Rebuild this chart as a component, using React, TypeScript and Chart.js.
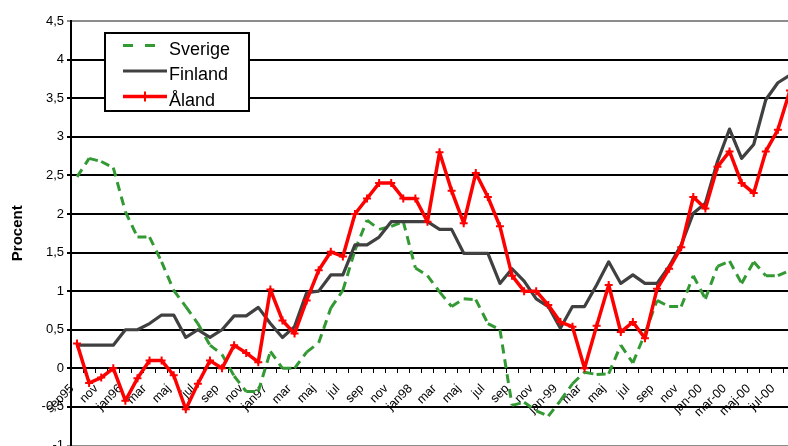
import React, { useEffect, useRef } from 'react';
import { Chart, registerables } from 'chart.js';

Chart.register(...registerables);

// Category labels (one per month, sep 1995 – aug 2000); every second one is shown
const months = [
  'sep95', 'okt', 'nov', 'dec', 'jan96', 'feb', 'mar', 'apr', 'maj', 'jun', 'jul', 'aug',
  'sep', 'okt', 'nov', 'dec', 'jan97', 'feb', 'mar', 'apr', 'maj', 'jun', 'jul', 'aug',
  'sep', 'okt', 'nov', 'dec', 'jan98', 'feb', 'mar', 'apr', 'maj', 'jun', 'jul', 'aug',
  'sep', 'okt', 'nov', 'dec', 'jan-99', 'feb', 'mar', 'apr', 'maj', 'jun', 'jul', 'aug',
  'sep', 'okt', 'nov', 'dec', 'jan-00', 'feb-00', 'mar-00', 'apr-00', 'maj-00', 'jun-00', 'jul-00', 'aug-00',
];

const sverige = [
  2.48, 2.72, 2.68, 2.6, 2.03, 1.7, 1.7, 1.38, 1.01, 0.8,
  0.58, 0.3, 0.18, -0.1, -0.3, -0.3, 0.22, 0.0, 0.0, 0.21,
  0.33, 0.78, 1.01, 1.53, 1.92, 1.8, 1.84, 1.9, 1.3, 1.2,
  0.99, 0.8, 0.9, 0.89, 0.58, 0.5, -0.48, -0.44, -0.55, -0.62,
  -0.42, -0.2, -0.05, -0.08, -0.07, 0.3, 0.07, 0.45, 0.88, 0.8,
  0.8, 1.2, 0.9, 1.32, 1.39, 1.1, 1.38, 1.2, 1.2, 1.27,
];

const finland = [
  0.3, 0.3, 0.3, 0.3, 0.5, 0.5, 0.58, 0.69, 0.69, 0.4,
  0.5, 0.4, 0.5, 0.68, 0.68, 0.79, 0.58, 0.4, 0.54, 0.98,
  1.0, 1.21, 1.21, 1.6, 1.6, 1.7, 1.9, 1.9, 1.9, 1.9,
  1.8, 1.8, 1.49, 1.49, 1.49, 1.1, 1.29, 1.13, 0.9, 0.8,
  0.52, 0.8, 0.8, 1.08, 1.38, 1.1, 1.21, 1.1, 1.1, 1.32,
  1.6, 2.01, 2.14, 2.68, 3.1, 2.72, 2.9, 3.48, 3.7, 3.8,
];

const aland = [
  0.32, -0.19, -0.12, 0.0, -0.42, -0.13, 0.1, 0.1, -0.09, -0.53,
  -0.2, 0.1, 0.0, 0.3, 0.2, 0.08, 1.02, 0.62, 0.45, 0.88,
  1.27, 1.51, 1.45, 2.0, 2.2, 2.4, 2.4, 2.2, 2.2, 1.9,
  2.8, 2.3, 1.88, 2.53, 2.22, 1.84, 1.2, 1.0, 1.0, 0.82,
  0.6, 0.54, 0.0, 0.55, 1.08, 0.47, 0.6, 0.39, 1.03, 1.29,
  1.57, 2.22, 2.07, 2.61, 2.81, 2.4, 2.27, 2.81, 3.09, 3.6,
];

const seriesNames = ['Sverige', 'Finland', 'Åland'];
const yTitle = 'Procent';
const yMin = -1;
const yMax = 4.5;
const yStep = 0.5;

const FONT = "'Liberation Sans', Arial, sans-serif";
const GREEN = '#339933';
const GRAY = '#404040';
const RED = '#ff0000';

const boxLegend = {
  id: 'boxLegend',
  afterDraw(chart: any) {
    const { ctx, chartArea } = chart;
    const x0 = chartArea.left + 34;
    const y0 = chartArea.top + 12;
    const w = 144;
    const h = 78;
    ctx.save();
    ctx.fillStyle = '#ffffff';
    ctx.fillRect(x0, y0, w, h);
    ctx.strokeStyle = '#000000';
    ctx.lineWidth = 2;
    ctx.strokeRect(x0, y0, w, h);
    ctx.font = `18px ${FONT}`;
    ctx.textBaseline = 'alphabetic';
    ctx.textAlign = 'left';
    chart.data.datasets.forEach((ds: any, i: number) => {
      const base = y0 + 21.5 + i * 25.5;
      const ly = base - 9;
      const lx0 = x0 + 18;
      const lx1 = x0 + 62;
      ctx.beginPath();
      ctx.strokeStyle = ds.borderColor;
      ctx.lineWidth = ds.borderWidth;
      ctx.setLineDash(ds.borderDash ? [10, 12] : []);
      ctx.moveTo(lx0, ly);
      ctx.lineTo(lx1, ly);
      ctx.stroke();
      ctx.setLineDash([]);
      if (ds.pointStyle === 'cross') {
        const cx = (lx0 + lx1) / 2;
        ctx.beginPath();
        ctx.lineWidth = 2;
        ctx.moveTo(cx, ly - 5);
        ctx.lineTo(cx, ly + 5);
        ctx.stroke();
      }
      ctx.fillStyle = '#000000';
      ctx.fillText(ds.label, x0 + 64, base);
    });
    ctx.restore();
  },
};

const zeroPadding = (s: any) => {
  s.paddingLeft = 0;
  s.paddingRight = 0;
  s.paddingTop = 0;
  s.paddingBottom = 0;
};

export default function App() {
  const ref = useRef<HTMLCanvasElement | null>(null);

  useEffect(() => {
    if (!ref.current) return;
    const chart = new Chart(ref.current, {
      type: 'line',
      data: {
        labels: months,
        datasets: [
          {
            label: seriesNames[0],
            data: sverige,
            borderColor: GREEN,
            backgroundColor: GREEN,
            borderWidth: 3,
            borderDash: [9, 6],
            pointRadius: 0,
            tension: 0,
            order: 3,
            segment: {
              borderDashOffset: (c: any) => (c.p0DataIndex % 2 ? 0.01 : 0),
            },
          } as any,
          {
            label: seriesNames[1],
            data: finland,
            borderColor: GRAY,
            backgroundColor: GRAY,
            borderWidth: 3.2,
            borderJoinStyle: 'round',
            pointRadius: 0,
            tension: 0,
            order: 2,
          },
          {
            label: seriesNames[2],
            data: aland,
            borderColor: RED,
            backgroundColor: RED,
            borderWidth: 3.5,
            borderJoinStyle: 'round',
            pointStyle: 'cross',
            pointRadius: 4,
            pointBorderWidth: 2,
            pointBorderColor: RED,
            tension: 0,
            order: 1,
          },
        ],
      },
      options: {
        animation: false,
        responsive: false,
        maintainAspectRatio: false,
        layout: { padding: { top: 21, right: 2, bottom: 11.5, left: 0 } },
        plugins: {
          legend: { display: false },
          tooltip: { enabled: false },
        },
        scales: {
          x: {
            type: 'category',
            position: { y: 0 } as any,
            offset: true,
            grid: {
              offset: true,
              drawOnChartArea: false,
              drawTicks: true,
              tickLength: 4,
              color: '#000',
              lineWidth: 1,
            },
            border: { color: '#000', width: 2 },
            ticks: {
              autoSkip: false,
              minRotation: 45,
              maxRotation: 45,
              padding: 9,
              labelOffset: -5,
              color: '#000',
              font: { family: FONT, size: 12.5 },
              callback: (_v: any, i: number) => (i % 2 === 0 ? months[i] : ''),
            },
            afterFit: zeroPadding,
          },
          y: {
            min: yMin,
            max: yMax,
            ticks: {
              stepSize: yStep,
              padding: 3,
              color: '#000',
              font: { family: FONT, size: 13 },
              callback: (v: any) => String(v).replace('.', ','),
            },
            grid: {
              color: (c: any) =>
                c.tick && (c.tick.value === yMax || c.tick.value === yMin) ? '#8c8c8c' : '#000',
              lineWidth: 2,
              tickLength: 4,
            },
            border: { color: '#000', width: 2 },
            title: {
              display: true,
              text: yTitle,
              color: '#000',
              font: { family: FONT, size: 15, weight: 'bold' },
              padding: { top: 9, bottom: 0 },
            },
            afterFit: (s: any) => {
              zeroPadding(s);
              s.width = 71;
            },
          },
        },
      },
      plugins: [boxLegend],
    });
    return () => chart.destroy();
  }, []);

  return (
    <div
      style={{
        position: 'fixed',
        left: 0,
        top: 0,
        width: 788,
        height: 446,
        overflow: 'hidden',
        background: '#fff',
      }}
    >
      <canvas ref={ref} width={802} height={457} style={{ display: 'block' }} />
    </div>
  );
}
